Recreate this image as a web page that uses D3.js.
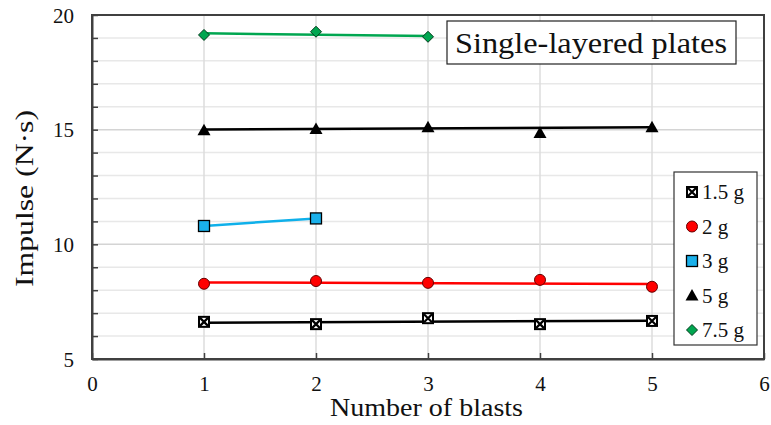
<!DOCTYPE html>
<html>
<head>
<meta charset="utf-8">
<script src="https://cdn.jsdelivr.net/npm/d3@7"></script>
<style>
  body { margin: 0; background: #fff; }
</style>
</head>
<body>
<div id="chart"></div>
<script>
// blasts on x axis
var blasts = [1, 2, 3, 4, 5];
var seriesNames = ["1.5 g", "2 g", "3 g", "5 g", "7.5 g"];
// measured impulse (N·s)
var imp15 = [6.62, 6.52, 6.78, 6.52, 6.66];
var imp2 = [8.28, 8.40, 8.32, 8.45, 8.15];
var imp3 = [10.80, 11.13];
var imp5 = [14.98, 15.03, 15.10, 14.86, 15.10];
var imp75 = [19.13, 19.27, 19.05];
// trend line ends (first blast, last blast)
var trend15 = [6.58, 6.67];
var trend2 = [8.34, 8.27];
var trend3 = [10.80, 11.13];
var trend5 = [15.01, 15.10];
var trend75 = [19.20, 19.08];
var xTicks = [0, 1, 2, 3, 4, 5, 6];
var yTicks = [5, 10, 15, 20];

var width = 771, height = 425;
var serif = "'Liberation Serif'";
var svg = d3.select("#chart").append("svg").attr("width", width).attr("height", height);

var x = d3.scaleLinear().domain([0, 6]).range([92, 764]);
var y = d3.scaleLinear().domain([5, 20]).range([359, 15]);

// grid
svg.append("g").selectAll("line").data(d3.range(6, 20)).enter().append("line")
  .attr("x1", x(0)).attr("x2", x(6))
  .attr("y1", function (d) { return y(d); }).attr("y2", function (d) { return y(d); })
  .attr("stroke", function (d) { return d % 5 == 0 ? "#d4d4d4" : "#e8e8e8"; }).attr("stroke-width", 1.5);
svg.append("g").selectAll("line").data(d3.range(1, 6)).enter().append("line")
  .attr("y1", y(5)).attr("y2", y(20))
  .attr("x1", function (d) { return x(d); }).attr("x2", function (d) { return x(d); })
  .attr("stroke", "#dcdcdc").attr("stroke-width", 1.5);

// axes with inward ticks
var yAxis = d3.axisLeft(y).tickValues(d3.range(5, 21)).tickSizeInner(-6).tickSizeOuter(0)
  .tickFormat(function (d) { return yTicks.indexOf(d) >= 0 ? d : ""; });
var gy = svg.append("g").attr("transform", "translate(" + x(0) + ",0)").call(yAxis);
gy.selectAll("text").attr("x", -18).attr("dy", "0.34em");
var xAxis = d3.axisBottom(x).tickValues(xTicks).tickFormat(d3.format("d")).tickSizeInner(-6).tickSizeOuter(0);
var gx = svg.append("g").attr("transform", "translate(0," + y(5) + ")").call(xAxis);
gx.selectAll("text").attr("y", 32).attr("dy", 0);
[gx, gy].forEach(function (g) {
  g.attr("font-family", null).attr("font-size", null);
  g.selectAll("text").style("font-family", serif).style("font-size", "21px").style("fill", "#111");
  g.select(".domain").attr("stroke", "#404040").attr("stroke-width", 2);
  g.selectAll(".tick line").attr("stroke", "#404040").attr("stroke-width", 1.5);
});
// right and top border
svg.append("rect").attr("x", x(0)).attr("y", y(20)).attr("width", x(6) - x(0)).attr("height", y(5) - y(20))
  .attr("fill", "none").attr("stroke", "#404040").attr("stroke-width", 2);

var series = [
  { name: seriesNames[0], vals: imp15, trend: trend15, color: "#000", fill: "#fff", shape: "boxx" },
  { name: seriesNames[1], vals: imp2, trend: trend2, color: "#ff0000", fill: "#ff0000", shape: "circle" },
  { name: seriesNames[2], vals: imp3, trend: trend3, color: "#0fb0ea", fill: "#1ab0ea", shape: "square" },
  { name: seriesNames[3], vals: imp5, trend: trend5, color: "#000", fill: "#000", shape: "triangle" },
  { name: seriesNames[4], vals: imp75, trend: trend75, color: "#00a650", fill: "#00a650", shape: "diamond" }
];

function drawMarker(g, shape, fill) {
  if (shape == "circle") {
    g.append("circle").attr("r", 5.5).attr("fill", fill).attr("stroke", "#600").attr("stroke-width", 1);
  } else if (shape == "square") {
    g.append("rect").attr("x", -5.5).attr("y", -5.5).attr("width", 11).attr("height", 11)
      .attr("fill", fill).attr("stroke", "#000").attr("stroke-width", 1.3);
  } else if (shape == "triangle") {
    g.append("path").attr("d", "M0,-6.5L6.5,5L-6.5,5Z").attr("fill", "#000");
  } else if (shape == "diamond") {
    g.append("path").attr("d", "M0,-5.5L5.5,0L0,5.5L-5.5,0Z").attr("fill", fill).attr("stroke", "#003a1a").attr("stroke-width", 1);
  } else {
    g.append("rect").attr("x", -5).attr("y", -5).attr("width", 10).attr("height", 10)
      .attr("fill", "#fff").attr("stroke", "#000").attr("stroke-width", 2);
    g.append("path").attr("d", "M-4,-4L4,4M4,-4L-4,4").attr("stroke", "#000").attr("stroke-width", 2.2);
  }
}

series.forEach(function (s) {
  var last = blasts[s.vals.length - 1];
  svg.append("line")
    .attr("x1", x(blasts[0])).attr("y1", y(s.trend[0]))
    .attr("x2", x(last)).attr("y2", y(s.trend[1]))
    .attr("stroke", s.color).attr("stroke-width", 2.5);
  s.vals.forEach(function (v, i) {
    var g = svg.append("g").attr("transform", "translate(" + x(blasts[i]) + "," + y(v) + ")");
    drawMarker(g, s.shape, s.fill);
  });
});

// title box
svg.append("rect").attr("x", 447).attr("y", 21).attr("width", 289).attr("height", 43)
  .attr("fill", "#fff").attr("stroke", "#222").attr("stroke-width", 1.2);
svg.append("text").attr("x", 455).attr("y", 53)
  .attr("textLength", 272).attr("lengthAdjust", "spacingAndGlyphs")
  .style("font-family", serif).style("font-size", "30px").style("fill", "#111").text("Single-layered plates");

// legend
svg.append("rect").attr("x", 674).attr("y", 172).attr("width", 83).attr("height", 173)
  .attr("fill", "#fff").attr("stroke", "#333").attr("stroke-width", 1.2);
series.forEach(function (s, i) {
  var ly = 192 + i * 34.5;
  var g = svg.append("g").attr("transform", "translate(" + 692 + "," + ly + ")");
  drawMarker(g, s.shape, s.fill);
  svg.append("text").attr("x", 702).attr("y", ly + 7)
    .style("font-family", serif).style("font-size", "21px").style("fill", "#111").text(s.name);
});

// axis titles
svg.append("text").attr("x", 330).attr("y", 416)
  .attr("textLength", 193).attr("lengthAdjust", "spacingAndGlyphs")
  .style("font-family", serif).style("font-size", "25px").style("fill", "#111").text("Number of blasts");
svg.append("text").attr("transform", "translate(33,287) rotate(-90)")
  .attr("textLength", 177).attr("lengthAdjust", "spacingAndGlyphs")
  .style("font-family", serif).style("font-size", "25px").style("fill", "#111").text("Impulse (N·s)");
</script>
</body>
</html>
